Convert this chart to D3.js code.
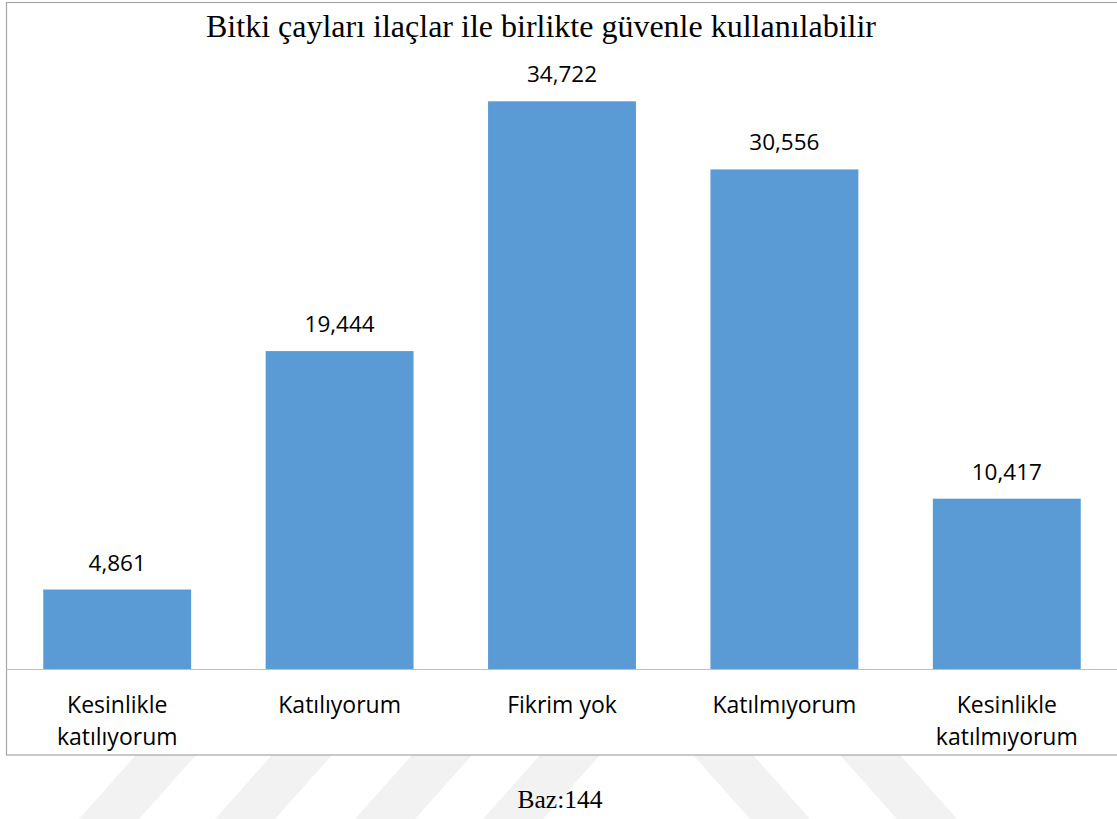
<!DOCTYPE html>
<html>
<head>
<meta charset="utf-8">
<script src="https://cdn.jsdelivr.net/npm/d3@7"></script>
<style>
  body { margin: 0; background: #fff; }
  svg { display: block; }
</style>
</head>
<body>
<div id="chart"></div>
<script>
// data
const categories = ["Kesinlikle katılıyorum", "Katılıyorum", "Fikrim yok", "Katılmıyorum", "Kesinlikle katılmıyorum"];
const tickLines = [["Kesinlikle", "katılıyorum"], ["Katılıyorum"], ["Fikrim yok"], ["Katılmıyorum"], ["Kesinlikle", "katılmıyorum"]];
const values = [4.861, 19.444, 34.722, 30.556, 10.417];
const title = "Bitki çayları ilaçlar ile birlikte güvenle kullanılabilir";
const footnote = "Baz:144";

const width = 1117, height = 819;
const box = { left: 6, top: 2.5, bottom: 755 };
const baseY = 669;

const svg = d3.select("#chart").append("svg")
    .attr("width", width)
    .attr("height", height);

// faint page watermark stripes below the chart box
const stripeTops = [136, 272, 412, 540, -693, -840];
const wm = svg.append("g").attr("fill", "#f2f2f2");
stripeTops.forEach(t => {
    let x0 = Math.abs(t), lean = t < 0 ? 57 : -57, w = 60;
    wm.append("path")
        .attr("d", `M${x0},${box.bottom} L${x0 + w},${box.bottom} L${x0 + w + lean},${height} L${x0 + lean},${height} Z`);
});

// chart area
svg.append("rect")
    .attr("x", box.left + 0.5)
    .attr("y", box.top)
    .attr("width", width + 10)
    .attr("height", box.bottom - box.top)
    .attr("fill", "#fff")
    .attr("stroke", "#a6a6a6")
    .attr("stroke-width", 1.2);

const x = d3.scaleBand()
    .domain(categories)
    .range([6, 1118])
    .paddingInner(0.335)
    .paddingOuter(0.1675);

const y = d3.scaleLinear()
    .domain([0, 40])
    .range([baseY, 15]);

const fmt = d3.formatLocale({ decimal: ",", thousands: ".", grouping: [3], currency: ["", ""] }).format(".3f");

// bars
svg.selectAll(".bar")
    .data(values)
    .enter()
    .append("rect")
    .attr("class", "bar")
    .attr("x", (d, i) => x(categories[i]))
    .attr("y", d => y(d))
    .attr("width", x.bandwidth())
    .attr("height", d => y(0) - y(d))
    .attr("fill", "#5b9bd5");

// value labels
svg.selectAll(".val")
    .data(values)
    .enter()
    .append("text")
    .attr("class", "val")
    .attr("x", (d, i) => x(categories[i]) + x.bandwidth() / 2)
    .attr("y", d => y(d) - 19)
    .attr("text-anchor", "middle")
    .style("font-family", "'Open Sans', sans-serif")
    .style("font-size", "22.5px")
    .style("fill", "#000")
    .text(d => fmt(d));

// category axis
const xAxis = d3.axisBottom(x).tickSize(0).tickPadding(0);
const axisG = svg.append("g")
    .attr("transform", `translate(0,${baseY})`)
    .call(xAxis);
axisG.select(".domain").remove();
axisG.append("line")
    .attr("x1", box.left)
    .attr("x2", width)
    .attr("y1", 0.5)
    .attr("y2", 0.5)
    .attr("stroke", "#bfbfbf")
    .attr("stroke-width", 1.2);
axisG.selectAll(".tick text")
    .attr("y", 0)
    .attr("dy", null)
    .style("font-family", "'Open Sans', sans-serif")
    .style("font-size", "23px")
    .style("fill", "#000")
    .each(function(d, i) {
        let t = d3.select(this).text("");
        tickLines[i].forEach((line, k) => {
            t.append("tspan")
                .attr("x", 0)
                .attr("y", 44 + k * 32)
                .text(line);
        });
    });

// title
svg.append("text")
    .attr("x", 541)
    .attr("y", 37)
    .attr("text-anchor", "middle")
    .style("font-family", "'Liberation Serif', 'Times New Roman', serif")
    .style("font-size", "32px")
    .style("fill", "#000")
    .text(title);

// base note
svg.append("text")
    .attr("x", 560)
    .attr("y", 808)
    .attr("text-anchor", "middle")
    .style("font-family", "'Liberation Serif', 'Times New Roman', serif")
    .style("font-size", "25.5px")
    .style("fill", "#000")
    .text(footnote);
</script>
</body>
</html>
